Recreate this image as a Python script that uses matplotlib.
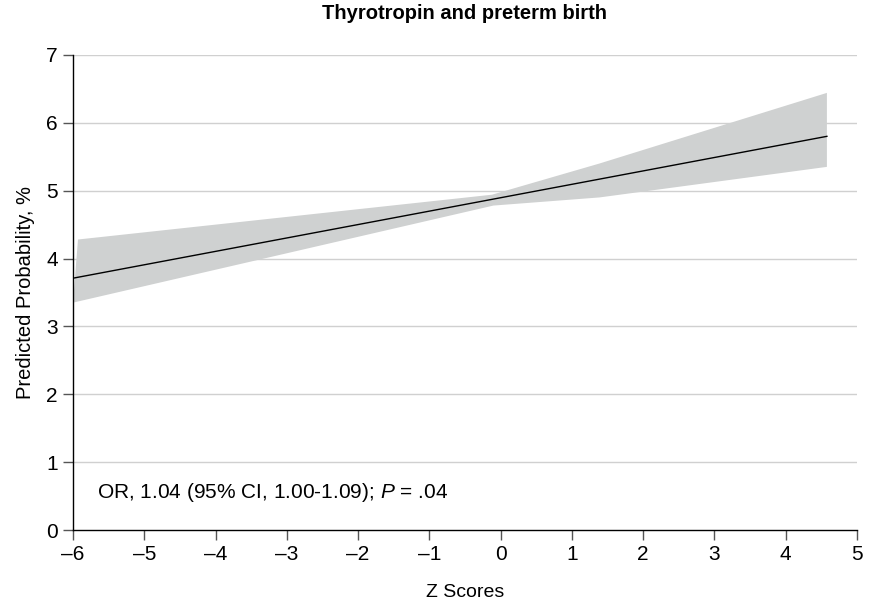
import matplotlib
matplotlib.use("Agg")
import matplotlib.pyplot as plt

plt.rcParams['font.family'] = ['Liberation Sans', 'DejaVu Sans']
plt.rcParams['mathtext.fontset'] = 'custom'
plt.rcParams['mathtext.rm'] = 'Liberation Sans'
plt.rcParams['mathtext.it'] = 'Liberation Sans:italic'

# fitted line (z score -> predicted probability, %)
line_x = [-6.0, 4.58]
line_y = [3.71, 5.80]

# 95% CI band edges
upper_x = [-5.93, -0.12, 1.39, 4.58]
upper_y = [4.28, 4.94, 5.40, 6.44]
lower_x = [-6.0, -0.1, 1.39, 4.58]
lower_y = [3.35, 4.78, 4.90, 5.35]

xticks = [-6, -5, -4, -3, -2, -1, 0, 1, 2, 3, 4, 5]
yticks = [0, 1, 2, 3, 4, 5, 6, 7]

fig = plt.figure(figsize=(8.69, 6.03), dpi=100)
ax = fig.add_axes([0.084, 0.121, 0.902, 0.788])

ax.fill(upper_x + lower_x[::-1], upper_y + lower_y[::-1],
        color='#cfd1d1', lw=0, zorder=2)
ax.plot(line_x, line_y, color='black', lw=1, zorder=3)

ax.set_xlim(-6, 5)
ax.set_ylim(0, 7)
ax.set_xticks(xticks)
ax.set_xticklabels([str(t).replace('-', '\u2013') for t in xticks])
ax.set_yticks(yticks)
for y in yticks[1:]:
    ax.axhline(y, color='#d0d0d0', lw=1, zorder=1)

for s in ['top', 'right']:
    ax.spines[s].set_visible(False)
ax.spines['left'].set_linewidth(1)
ax.spines['bottom'].set_linewidth(1)
ax.tick_params(axis='both', labelsize=15, length=7, width=1, color='#555555', pad=4)

ax.set_xlabel('Z Scores', fontsize=14, labelpad=14)
ax.set_ylabel('Predicted Probability, %', fontsize=14.5, labelpad=8)
ax.set_title('Thyrotropin and preterm birth', fontsize=14.5, fontweight='bold', pad=26)

ax.text(-5.67, 0.55, 'OR, 1.04 (95% CI, 1.00-1.09); $P$ = .04', fontsize=15,
        va='center', ha='left')

fig.savefig('out.png', dpi=100)
